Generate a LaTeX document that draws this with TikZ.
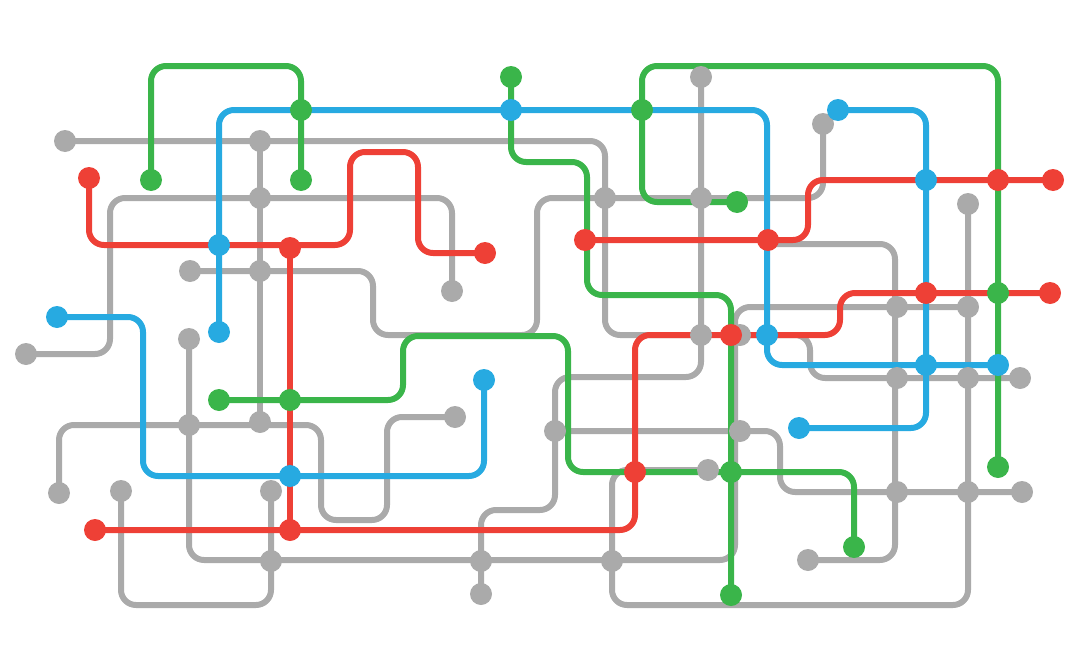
\documentclass[tikz,border=0pt]{standalone}
\definecolor{cg}{HTML}{AAAAAA}
\definecolor{cr}{HTML}{EE4036}
\definecolor{cb}{HTML}{27AAE1}
\definecolor{cgr}{HTML}{3AB54A}
\tikzset{ln/.style={line width=6pt,rounded corners=15pt,draw=#1},
 dt/.style={circle,fill=#1,inner sep=0pt,minimum size=22pt}}
\begin{document}
\begin{tikzpicture}[x=1pt,y=-1pt]
\useasboundingbox (0,0) rectangle (1080,672);
% gray lines
\draw[ln=cg] (65,141) -| (605,335) -- (701,335);
\draw[ln=cg] (701,77) -- (701,377) -| (555,510) -| (481,594);
\draw[ln=cg] (190,271) -| (373,335) -| (537,198) -| (823,124);
\draw[ln=cg] (26,354) -| (110,198) -| (452,291);
\draw[ln=cg] (260,141) -- (260,422);
\draw[ln=cg] (59,493) |- (321,425) |- (387,520) |- (455,417);
\draw[ln=cg] (189,339) |- (735,560) |- (968,307);
\draw[ln=cg] (708,470) -| (612,605) -| (968,204);
\draw[ln=cg] (768,244) -| (895,560) -- (808,560);
\draw[ln=cg] (731,335) -| (810,378) -- (1020,378);
\draw[ln=cg] (555,431) -| (780,492) -- (1022,492);
\draw[ln=cg] (121,491) |- (271,605) -- (271,491);
% red
\draw[ln=cr] (89,178) |- (350,245) |- (418,152) |- (485,253);
\draw[ln=cr] (290,248) -- (290,530);
\draw[ln=cr] (95,530) -| (635,335) -| (840,293) -- (1050,293);
\draw[ln=cr] (585,240) -| (808,180) -- (1053,180);
% blue
\draw[ln=cb] (219,332) |- (767,110) |- (998,365);
\draw[ln=cb] (57,317) -| (143,476) -| (484,380);
\draw[ln=cb] (838,110) -| (926,428) -- (799,428);
% green
\draw[ln=cgr] (151,180) |- (301,66) -- (301,180);
\draw[ln=cgr] (511,77) |- (587,162) |- (731,295) -- (731,595);
\draw[ln=cgr] (219,400) -| (403,336) -| (568,472) -| (854,547);
\draw[ln=cgr] (737,202) -| (642,66) -| (998,467);
% dots
\foreach \p [count=\i] in {(65,141),(260,141),(260,198),(260,271),(260,422),(190,271),(452,291),(26,354),(189,339),(189,425),(59,493),(121,491),(271,491),(271,561),(481,561),(481,594),(555,431),(612,561),(701,77),(701,198),(605,198),(701,335),(823,124),(968,204),(968,307),(968,378),(968,492),(897,307),(897,378),(897,492),(1020,378),(1022,492),(808,560),(708,470),(740,431),(455,417),(740,335)}
  \node[dt=cg] (g\i) at \p {};
\foreach \p [count=\i] in {(89,178),(290,248),(485,253),(290,530),(95,530),(635,472),(731,335),(926,293),(1050,293),(585,240),(768,240),(998,180),(1053,180)}
  \node[dt=cr] (r\i) at \p {};
\foreach \p [count=\i] in {(219,332),(219,245),(511,110),(767,335),(926,365),(998,365),(57,317),(290,476),(484,380),(838,110),(926,180),(799,428)}
  \node[dt=cb] (b\i) at \p {};
\foreach \p [count=\i] in {(151,180),(301,180),(301,110),(511,77),(731,472),(731,595),(219,400),(290,400),(854,547),(737,202),(642,110),(998,293),(998,467)}
  \node[dt=cgr] (n\i) at \p {};
\end{tikzpicture}
\end{document}
